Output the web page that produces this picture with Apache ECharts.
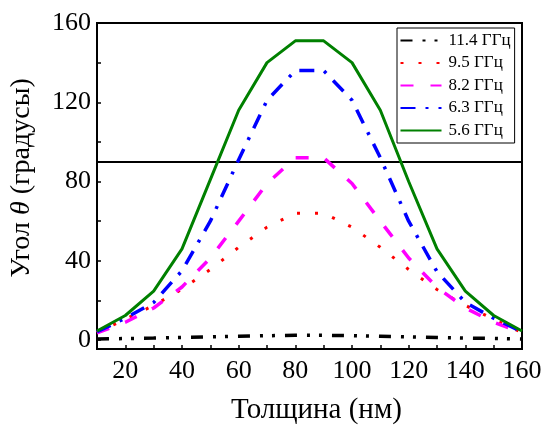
<!DOCTYPE html>
<html>
<head>
<meta charset="utf-8">
<script src="https://cdn.jsdelivr.net/npm/echarts@6/dist/echarts.min.js"></script>
<style>
html,body{margin:0;padding:0;background:#fff;}
#chart{width:546px;height:430px;}
</style>
</head>
<body>
<div id="chart"></div>
<script>
// Thickness (nm)
const thickness = [10, 20, 30, 40, 50, 60, 70, 80, 90, 100, 110, 120, 130, 140, 150, 160];
// Angle theta (degrees) per frequency
const f114 = [0.5, 0.8, 1.0, 1.3, 1.6, 1.9, 2.2, 2.4, 2.4, 2.2, 1.9, 1.6, 1.3, 1.0, 0.8, 0.5];
const f95  = [3.8, 10.5, 17.5, 25.7, 35.6, 46.8, 57, 64, 64, 57, 46.8, 35.6, 25.5, 17.5, 10.5, 3.8];
const f82  = [3.6, 9, 16.2, 26.8, 41.4, 60, 79, 92, 92, 79, 60, 41.4, 26.6, 16.2, 9, 3.6];
const f63  = [4.2, 11, 19, 35, 60, 91, 121, 136, 136, 121, 92, 60, 34.5, 19, 11, 4.2];
const f56  = [4.6, 12.4, 24.7, 46, 81, 116, 140, 151, 151, 140, 116, 80, 46, 24.7, 12.4, 4.6];
const seriesNames = ['11.4 ГГц', '9.5 ГГц', '8.2 ГГц', '6.3 ГГц', '5.6 ГГц'];
const refLine = 90;
// Axis ticks / labels
const xLabelValues = [20, 40, 60, 80, 100, 120, 140, 160];
const xTickValues = [20, 30, 40, 50, 60, 70, 80, 90, 100, 110, 120, 130, 140, 150];
const yLabelValues = [0, 40, 80, 120, 160];
const yTickValues = [0, 20, 40, 60, 80, 100, 120, 140];

const FONT = "'Liberation Serif', 'Times New Roman', serif";
const pair = arr => thickness.map((t, i) => [t, arr[i]]);

const styles = [
  {color: '#000000', width: 3.5, type: [12, 10, 3, 9, 3, 10]},
  {color: '#ff0000', width: 3, type: [3, 15]},
  {color: '#ff00ff', width: 3.5, type: [13, 17]},
  {color: '#0000ff', width: 3.5, type: [15, 10, 3, 10]},
  {color: '#008000', width: 3, type: 'solid'}
];
const dataSets = [f114, f95, f82, f63, f56];

const series = dataSets.map((d, i) => ({
  name: seriesNames[i],
  type: 'line',
  data: pair(d),
  symbol: 'none',
  showSymbol: false,
  z: 3 + i,
  color: styles[i].color,
  lineStyle: {color: styles[i].color, width: styles[i].width, type: styles[i].type, cap: 'butt'},
  itemStyle: {color: styles[i].color}
}));
series[0].markLine = {
  silent: true,
  symbol: ['none', 'none'],
  label: {show: false},
  lineStyle: {color: '#000', width: 2, type: 'solid'},
  data: [{yAxis: refLine}],
  animation: false
};

const chart = echarts.init(document.getElementById('chart'));
chart.setOption({
  animation: false,
  backgroundColor: '#fff',
  textStyle: {fontFamily: FONT},
  grid: {left: 97, right: 24, top: 23, bottom: 76, containLabel: false,
         show: true, borderColor: '#000', borderWidth: 2, backgroundColor: 'transparent'},
  legend: {
    data: seriesNames,
    orient: 'vertical',
    left: 397, top: 28,
    itemWidth: 41, itemHeight: 14, itemGap: 5.5,
    padding: [4, 4, 4, 2.5],
    borderColor: '#000', borderWidth: 1,
    backgroundColor: '#fff',
    textStyle: {fontFamily: FONT, fontSize: 17, color: '#000', padding: [0, 0, 0, 2]},
    itemStyle: {opacity: 0}
  },
  xAxis: {
    type: 'value', min: 10, max: 160,
    name: 'Толщина (нм)', nameLocation: 'middle', nameGap: 47,
    nameTextStyle: {fontFamily: FONT, fontSize: 29, color: '#000', padding: [0, 0, 0, 14]},
    axisLine: {show: true, onZero: false, lineStyle: {color: '#000', width: 2}},
    axisTick: {show: true, inside: true, length: 4, lineStyle: {color: '#000', width: 1.5}, customValues: xTickValues},
    axisLabel: {fontFamily: FONT, fontSize: 26, color: '#000', margin: 9, customValues: xLabelValues},
    splitLine: {show: false}
  },
  yAxis: {
    type: 'value', min: -4.5, max: 160,
    name: '{a|Угол }{b|θ}{a| (градусы)}', nameLocation: 'middle', nameGap: 61,
    nameTextStyle: {fontFamily: FONT, fontSize: 28, color: '#000', padding: [0, 0, 0, 16],
      rich: {a: {fontFamily: FONT, fontSize: 28, color: '#000'},
             b: {fontFamily: FONT, fontSize: 28, color: '#000', fontStyle: 'italic'}}},
    axisLine: {show: true, onZero: false, lineStyle: {color: '#000', width: 2}},
    axisTick: {show: true, inside: true, length: 4, lineStyle: {color: '#000', width: 1.5}, customValues: yTickValues},
    axisLabel: {fontFamily: FONT, fontSize: 26, color: '#000', margin: 6, customValues: yLabelValues},
    splitLine: {show: false}
  },
  series: series
});
</script>
</body>
</html>
